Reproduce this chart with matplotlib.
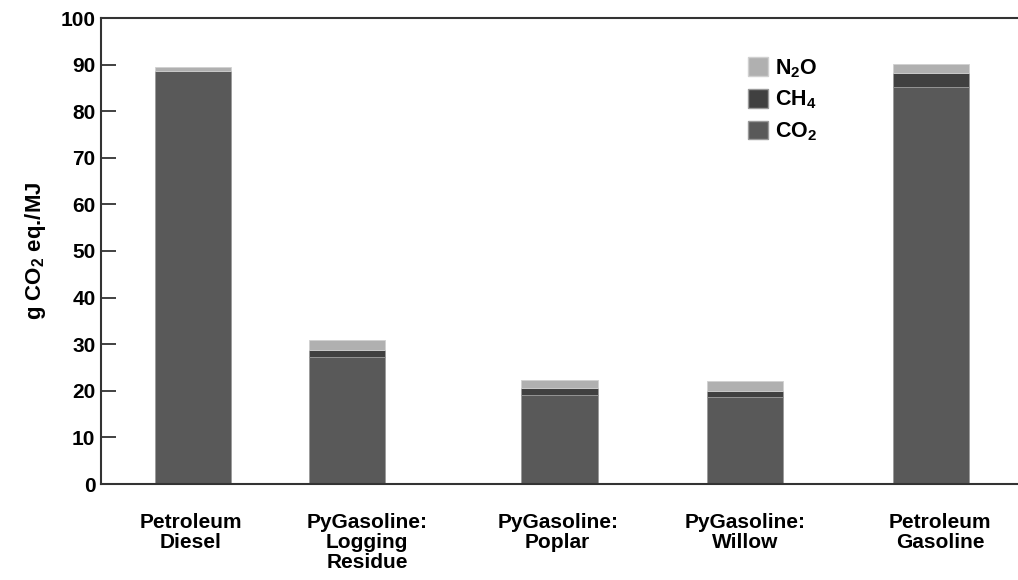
import matplotlib.pyplot as plt
from matplotlib.patches import Patch

plt.rcParams["font.family"] = ["Liberation Sans", "DejaVu Sans"]
plt.rcParams["font.weight"] = "bold"
plt.rcParams["mathtext.fontset"] = "custom"
plt.rcParams["mathtext.rm"] = "Liberation Sans:bold"
plt.rcParams["mathtext.it"] = "Liberation Sans:bold"
plt.rcParams["mathtext.bf"] = "Liberation Sans:bold"

# Fuel pathways and their GHG emissions (g CO2 eq./MJ)
fuels = ["Petroleum\nDiesel", "PyGasoline:\nLogging\nResidue", "PyGasoline:\nPoplar",
         "PyGasoline:\nWillow", "Petroleum\nGasoline"]
co2 = [88.6, 27.3, 19.2, 18.6, 85.3]
ch4 = [0.1, 1.5, 1.5, 1.4, 3.0]
n2o = [0.7, 2.1, 1.6, 2.1, 1.8]

# bar slots and label slots along the x axis (axis runs 0..10)
bar_x = [1.0, 2.68, 5.0, 7.02, 9.05]
label_x = [0.98, 2.9, 4.98, 7.02, 9.15]
bar_w = 0.83

c_co2 = "#595959"
c_ch4 = "#404040"
c_n2o = "#b0b0b0"

fig = plt.figure(figsize=(10.18, 5.8), dpi=100)
ax = fig.add_axes([101 / 1018, 96 / 580, 917 / 1018, 466 / 580])

bot2 = [a + b for a, b in zip(co2, ch4)]
ax.bar(bar_x, co2, width=bar_w, color=c_co2, edgecolor="#9a9a9a", linewidth=0.6)
ax.bar(bar_x, ch4, width=bar_w, bottom=co2, color=c_ch4, edgecolor="#9a9a9a", linewidth=0.6)
ax.bar(bar_x, n2o, width=bar_w, bottom=bot2, color=c_n2o, edgecolor="#d0d0d0", linewidth=0.6)

ax.set_xlim(0, 10)
ax.set_ylim(0, 100)
ax.set_yticks(range(0, 101, 10))
ax.set_xticks(label_x)
ax.set_xticklabels(fuels, fontsize=15, fontweight="bold", linespacing=1.05)
ax.tick_params(axis="x", length=0, pad=21)
ax.tick_params(axis="y", direction="in", length=11, width=1.3, color="#333333",
               labelsize=15, pad=4)
for lbl in ax.get_yticklabels():
    lbl.set_fontweight("bold")

for side in ["left", "bottom", "top"]:
    ax.spines[side].set_color("#333333")
    ax.spines[side].set_linewidth(1.5)
ax.spines["right"].set_visible(False)

ax.set_ylabel(r"g CO$_{\mathrm{2}}$ eq./MJ", fontsize=16, fontweight="bold", labelpad=9)

handles = [Patch(facecolor=c_n2o, edgecolor="#d0d0d0"),
           Patch(facecolor=c_ch4, edgecolor="#9a9a9a"),
           Patch(facecolor=c_co2, edgecolor="#9a9a9a")]
labels = [r"N$_{\mathrm{2}}$O", r"CH$_{\mathrm{4}}$", r"CO$_{\mathrm{2}}$"]
ax.legend(handles, labels, loc="upper left", bbox_to_anchor=(748 / 1018, 1 - 57 / 580),
          bbox_transform=fig.transFigure, frameon=False, fontsize=15.5,
          handlelength=0.95, handleheight=0.95, handletextpad=0.3,
          labelspacing=0.42, borderpad=0, borderaxespad=0)

fig.savefig("out.png", dpi=100)
